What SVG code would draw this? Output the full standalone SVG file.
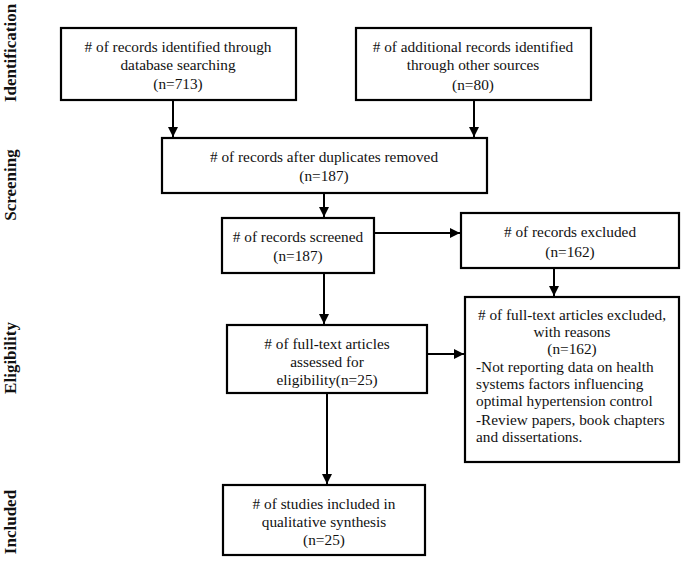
<svg xmlns="http://www.w3.org/2000/svg" width="681" height="565" viewBox="0 0 681 565">
<defs>
<style>
.box{fill:#fff;stroke:#000;stroke-width:2.2}
.t{font-family:"Liberation Serif","Times New Roman",serif;font-size:15.3px;fill:#111;text-anchor:middle}
.tl{font-family:"Liberation Serif","Times New Roman",serif;font-size:15.3px;fill:#111;text-anchor:start}
.side{font-family:"Liberation Serif","Times New Roman",serif;font-size:17px;font-weight:bold;fill:#111;text-anchor:middle}
.c{stroke:#000;stroke-width:2;fill:none}
</style>
<marker id="ah" viewBox="0 0 10 10" refX="10" refY="5" markerWidth="5" markerHeight="5" markerUnits="strokeWidth" orient="auto">
<path d="M0,0 L10,5 L0,10 z" fill="#000"/>
</marker>
</defs>
<rect width="681" height="565" fill="#fff"/>
<g id="labels">
<text class="side" transform="translate(16,53) rotate(-90)">Identification</text>
<text class="side" transform="translate(16,185) rotate(-90)">Screening</text>
<text class="side" transform="translate(16,358) rotate(-90)">Eligibility</text>
<text class="side" transform="translate(16,522) rotate(-90)">Included</text>
</g>
<g id="connectors">
<line class="c" x1="173" y1="101" x2="173" y2="137" marker-end="url(#ah)"/>
<line class="c" x1="474" y1="101" x2="474" y2="137" marker-end="url(#ah)"/>
<line class="c" x1="324" y1="193" x2="324" y2="217" marker-end="url(#ah)"/>
<line class="c" x1="374" y1="233" x2="460" y2="233" marker-end="url(#ah)"/>
<line class="c" x1="554" y1="268" x2="554" y2="296" marker-end="url(#ah)"/>
<line class="c" x1="324" y1="273" x2="324" y2="324" marker-end="url(#ah)"/>
<line class="c" x1="427" y1="354" x2="464" y2="354" marker-end="url(#ah)"/>
<line class="c" x1="327" y1="393" x2="327" y2="484" marker-end="url(#ah)"/>
</g>
<g id="n1">
<rect class="box" x="61" y="28" width="235" height="72"/>
<text class="t" x="178" y="52"># of records identified through</text>
<text class="t" x="178" y="70">database searching</text>
<text class="t" x="178" y="89">(n=713)</text>
</g>
<g id="n2">
<rect class="box" x="356" y="28" width="235" height="72"/>
<text class="t" x="473" y="52"># of additional records identified</text>
<text class="t" x="473" y="70">through other sources</text>
<text class="t" x="473" y="90">(n=80)</text>
</g>
<g id="n3">
<rect class="box" x="162" y="138" width="325" height="55"/>
<text class="t" x="324" y="162"># of records after duplicates removed</text>
<text class="t" x="324" y="181">(n=187)</text>
</g>
<g id="n4">
<rect class="box" x="222" y="218" width="152" height="55"/>
<text class="t" x="298" y="242"># of records screened</text>
<text class="t" x="298" y="261">(n=187)</text>
</g>
<g id="n5">
<rect class="box" x="461" y="213" width="218" height="55"/>
<text class="t" x="570" y="237"># of records excluded</text>
<text class="t" x="570" y="257">(n=162)</text>
</g>
<g id="n6">
<rect class="box" x="227" y="325" width="200" height="68"/>
<text class="t" x="327" y="349"># of full-text articles</text>
<text class="t" x="327" y="367">assessed for</text>
<text class="t" x="327" y="385">eligibility(n=25)</text>
</g>
<g id="n7">
<rect class="box" x="465" y="297" width="214" height="165"/>
<text class="t" x="572" y="320"># of full-text articles excluded,</text>
<text class="t" x="572" y="337">with reasons</text>
<text class="t" x="572" y="354">(n=162)</text>
<text class="tl" x="476" y="372">-Not reporting data on health</text>
<text class="tl" x="476" y="389">systems factors influencing</text>
<text class="tl" x="476" y="406">optimal hypertension control</text>
<text class="tl" x="476" y="425">-Review papers, book chapters</text>
<text class="tl" x="476" y="442">and dissertations.</text>
</g>
<g id="n8">
<rect class="box" x="223" y="485" width="202" height="70"/>
<text class="t" x="324" y="509"># of studies included in</text>
<text class="t" x="324" y="527">qualitative synthesis</text>
<text class="t" x="324" y="545">(n=25)</text>
</g>
</svg>
